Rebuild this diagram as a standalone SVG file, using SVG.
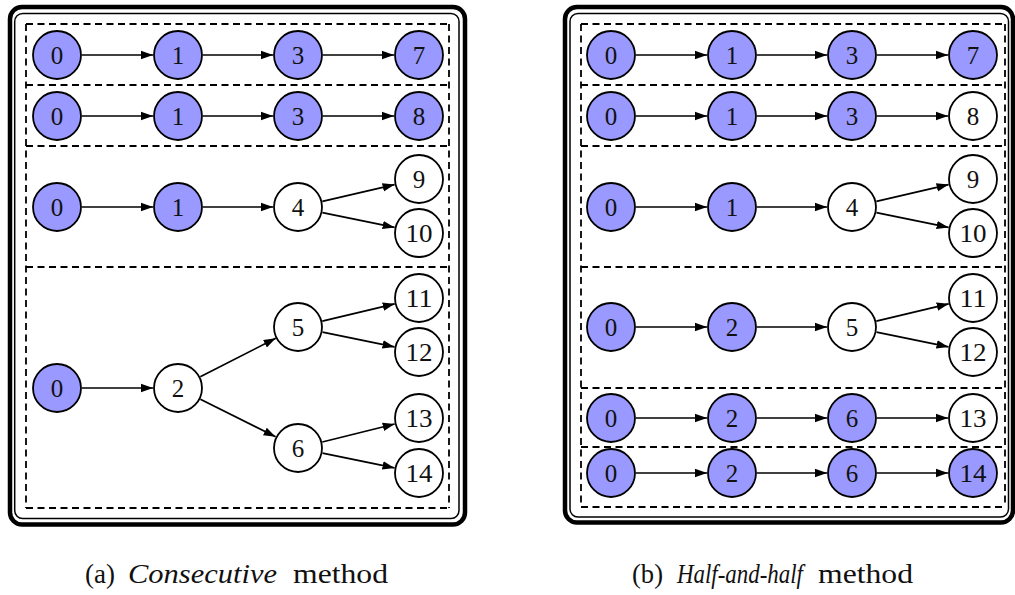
<svg xmlns="http://www.w3.org/2000/svg" width="1015" height="595" viewBox="0 0 1015 595">
<style>
.bg{fill:#fff}
.outer{fill:none;stroke:#000;stroke-width:4.5}
.inner{fill:none;stroke:#000;stroke-width:1.5}
.dash{fill:none;stroke:#000;stroke-width:1.8;stroke-dasharray:7 4.5}
.n circle{stroke:#000;stroke-width:1.8}
.b circle{fill:#9999ff}
.w circle{fill:#fff}
.n text{font-family:"Liberation Serif",serif;font-size:25px;text-anchor:middle;fill:#111}
.e line{stroke:#000;stroke-width:1.7;marker-end:url(#ah)}
.cap{font-family:"Liberation Serif",serif;font-size:27px;fill:#111}
.it{font-style:italic}
</style>
<defs>
<marker id="ah" markerUnits="userSpaceOnUse" markerWidth="13" markerHeight="10" refX="12" refY="5" orient="auto">
<path d="M0,0.8 L12,5 L0,9.2 z" fill="#000"/>
</marker>
</defs>
<rect class="bg" x="0" y="0" width="1015" height="595"/>

<g id="frames">
<rect class="outer" x="10" y="7" width="455" height="517.5" rx="12"/>
<rect class="inner" x="14.7" y="13.5" width="444.3" height="505" rx="8"/>
<path class="dash" d="M26,24 H449 M26,85 H449 M26,146 H449 M26,267 H449 M26,508 H449 M26,24 V508 M449,24 V508"/>

<rect class="outer" x="565" y="7" width="448" height="515.5" rx="12"/>
<rect class="inner" x="570" y="13.5" width="438.5" height="503.5" rx="8"/>
<path class="dash" d="M581,24 H1005 M581,85 H1005 M581,146 H1005 M581,267 H1005 M581,388 H1005 M581,447 H1005 M581,507 H1005 M581,24 V507 M1005,24 V507"/>
</g>

<g id="connectors" class="e">
<!-- left panel -->
<line x1="82" y1="55" x2="153" y2="55"/>
<line x1="203" y1="55" x2="273" y2="55"/>
<line x1="323" y1="55" x2="394" y2="55"/>
<line x1="82" y1="116" x2="153" y2="116"/>
<line x1="203" y1="116" x2="273" y2="116"/>
<line x1="323" y1="116" x2="394" y2="116"/>
<line x1="82" y1="207" x2="153" y2="207"/>
<line x1="203" y1="207" x2="273" y2="207"/>
<line x1="322.4" y1="201.4" x2="394.6" y2="184.6"/>
<line x1="322.4" y1="212.6" x2="394.6" y2="227.4"/>
<line x1="82" y1="388" x2="153" y2="388"/>
<line x1="200.3" y1="376.7" x2="275.7" y2="338.3"/>
<line x1="200.4" y1="399.2" x2="275.6" y2="436.8"/>
<line x1="322.3" y1="321.2" x2="394.7" y2="303.8"/>
<line x1="322.5" y1="332.1" x2="394.5" y2="346.9"/>
<line x1="322.3" y1="442" x2="394.7" y2="424"/>
<line x1="322.5" y1="453.1" x2="394.5" y2="467.9"/>
<!-- right panel -->
<line x1="636" y1="55" x2="707" y2="55"/>
<line x1="757" y1="55" x2="827" y2="55"/>
<line x1="877" y1="55" x2="948" y2="55"/>
<line x1="636" y1="116" x2="707" y2="116"/>
<line x1="757" y1="116" x2="827" y2="116"/>
<line x1="877" y1="116" x2="948" y2="116"/>
<line x1="636" y1="207" x2="707" y2="207"/>
<line x1="757" y1="207" x2="827" y2="207"/>
<line x1="876.4" y1="201.4" x2="948.6" y2="184.6"/>
<line x1="876.4" y1="212.6" x2="948.6" y2="227.4"/>
<line x1="636" y1="327" x2="707" y2="327"/>
<line x1="757" y1="327" x2="827" y2="327"/>
<line x1="876.3" y1="321.2" x2="948.7" y2="303.8"/>
<line x1="876.5" y1="332.1" x2="948.5" y2="346.9"/>
<line x1="636" y1="418" x2="707" y2="418"/>
<line x1="757" y1="418" x2="827" y2="418"/>
<line x1="877" y1="418" x2="948" y2="418"/>
<line x1="636" y1="473" x2="707" y2="473"/>
<line x1="757" y1="473" x2="827" y2="473"/>
<line x1="877" y1="473" x2="948" y2="473"/>
</g>

<g id="nodes-a">
<g id="a-r1-0" class="n b"><circle cx="57" cy="55" r="24"/><text x="57" y="63.5">0</text></g>
<g id="a-r1-1" class="n b"><circle cx="178" cy="55" r="24"/><text x="178" y="63.5">1</text></g>
<g id="a-r1-3" class="n b"><circle cx="298" cy="55" r="24"/><text x="298" y="63.5">3</text></g>
<g id="a-r1-7" class="n b"><circle cx="419" cy="55" r="24"/><text x="419" y="63.5">7</text></g>
<g id="a-r2-0" class="n b"><circle cx="57" cy="116" r="24"/><text x="57" y="124.5">0</text></g>
<g id="a-r2-1" class="n b"><circle cx="178" cy="116" r="24"/><text x="178" y="124.5">1</text></g>
<g id="a-r2-3" class="n b"><circle cx="298" cy="116" r="24"/><text x="298" y="124.5">3</text></g>
<g id="a-r2-8" class="n b"><circle cx="419" cy="116" r="24"/><text x="419" y="124.5">8</text></g>
<g id="a-r3-0" class="n b"><circle cx="57" cy="207" r="24"/><text x="57" y="215.5">0</text></g>
<g id="a-r3-1" class="n b"><circle cx="178" cy="207" r="24"/><text x="178" y="215.5">1</text></g>
<g id="a-r3-4" class="n w"><circle cx="298" cy="207" r="24"/><text x="298" y="215.5">4</text></g>
<g id="a-r3-9" class="n w"><circle cx="419" cy="179" r="24"/><text x="419" y="187.5">9</text></g>
<g id="a-r3-10" class="n w"><circle cx="419" cy="233" r="24"/><text x="419" y="241.5" textLength="27" lengthAdjust="spacingAndGlyphs">10</text></g>
<g id="a-r4-0" class="n b"><circle cx="57" cy="388" r="24"/><text x="57" y="396.5">0</text></g>
<g id="a-r4-2" class="n w"><circle cx="178" cy="388" r="24"/><text x="178" y="396.5">2</text></g>
<g id="a-r4-5" class="n w"><circle cx="298" cy="327" r="24"/><text x="298" y="335.5">5</text></g>
<g id="a-r4-6" class="n w"><circle cx="298" cy="448" r="24"/><text x="298" y="456.5">6</text></g>
<g id="a-r4-11" class="n w"><circle cx="419" cy="298" r="24"/><text x="419" y="306.5" textLength="27" lengthAdjust="spacingAndGlyphs">11</text></g>
<g id="a-r4-12" class="n w"><circle cx="419" cy="352" r="24"/><text x="419" y="360.5" textLength="27" lengthAdjust="spacingAndGlyphs">12</text></g>
<g id="a-r4-13" class="n w"><circle cx="419" cy="418" r="24"/><text x="419" y="426.5" textLength="27" lengthAdjust="spacingAndGlyphs">13</text></g>
<g id="a-r4-14" class="n w"><circle cx="419" cy="473" r="24"/><text x="419" y="481.5" textLength="27" lengthAdjust="spacingAndGlyphs">14</text></g>
</g>

<g id="nodes-b">
<g id="b-r1-0" class="n b"><circle cx="611" cy="55" r="24"/><text x="611" y="63.5">0</text></g>
<g id="b-r1-1" class="n b"><circle cx="732" cy="55" r="24"/><text x="732" y="63.5">1</text></g>
<g id="b-r1-3" class="n b"><circle cx="852" cy="55" r="24"/><text x="852" y="63.5">3</text></g>
<g id="b-r1-7" class="n b"><circle cx="973" cy="55" r="24"/><text x="973" y="63.5">7</text></g>
<g id="b-r2-0" class="n b"><circle cx="611" cy="116" r="24"/><text x="611" y="124.5">0</text></g>
<g id="b-r2-1" class="n b"><circle cx="732" cy="116" r="24"/><text x="732" y="124.5">1</text></g>
<g id="b-r2-3" class="n b"><circle cx="852" cy="116" r="24"/><text x="852" y="124.5">3</text></g>
<g id="b-r2-8" class="n w"><circle cx="973" cy="116" r="24"/><text x="973" y="124.5">8</text></g>
<g id="b-r3-0" class="n b"><circle cx="611" cy="207" r="24"/><text x="611" y="215.5">0</text></g>
<g id="b-r3-1" class="n b"><circle cx="732" cy="207" r="24"/><text x="732" y="215.5">1</text></g>
<g id="b-r3-4" class="n w"><circle cx="852" cy="207" r="24"/><text x="852" y="215.5">4</text></g>
<g id="b-r3-9" class="n w"><circle cx="973" cy="179" r="24"/><text x="973" y="187.5">9</text></g>
<g id="b-r3-10" class="n w"><circle cx="973" cy="233" r="24"/><text x="973" y="241.5" textLength="27" lengthAdjust="spacingAndGlyphs">10</text></g>
<g id="b-r4-0" class="n b"><circle cx="611" cy="327" r="24"/><text x="611" y="335.5">0</text></g>
<g id="b-r4-2" class="n b"><circle cx="732" cy="327" r="24"/><text x="732" y="335.5">2</text></g>
<g id="b-r4-5" class="n w"><circle cx="852" cy="327" r="24"/><text x="852" y="335.5">5</text></g>
<g id="b-r4-11" class="n w"><circle cx="973" cy="298" r="24"/><text x="973" y="306.5" textLength="27" lengthAdjust="spacingAndGlyphs">11</text></g>
<g id="b-r4-12" class="n w"><circle cx="973" cy="352" r="24"/><text x="973" y="360.5" textLength="27" lengthAdjust="spacingAndGlyphs">12</text></g>
<g id="b-r5-0" class="n b"><circle cx="611" cy="418" r="24"/><text x="611" y="426.5">0</text></g>
<g id="b-r5-2" class="n b"><circle cx="732" cy="418" r="24"/><text x="732" y="426.5">2</text></g>
<g id="b-r5-6" class="n b"><circle cx="852" cy="418" r="24"/><text x="852" y="426.5">6</text></g>
<g id="b-r5-13" class="n w"><circle cx="973" cy="418" r="24"/><text x="973" y="426.5" textLength="27" lengthAdjust="spacingAndGlyphs">13</text></g>
<g id="b-r6-0" class="n b"><circle cx="611" cy="473" r="24"/><text x="611" y="481.5">0</text></g>
<g id="b-r6-2" class="n b"><circle cx="732" cy="473" r="24"/><text x="732" y="481.5">2</text></g>
<g id="b-r6-6" class="n b"><circle cx="852" cy="473" r="24"/><text x="852" y="481.5">6</text></g>
<g id="b-r6-14" class="n b"><circle cx="973" cy="473" r="24"/><text x="973" y="481.5" textLength="27" lengthAdjust="spacingAndGlyphs">14</text></g>
</g>

<g id="captions">
<text class="cap" x="85" y="583" textLength="30" lengthAdjust="spacingAndGlyphs">(a)</text>
<text class="cap it" x="128" y="583" textLength="149" lengthAdjust="spacingAndGlyphs">Consecutive</text>
<text class="cap" x="293" y="583" textLength="95" lengthAdjust="spacingAndGlyphs">method</text>
<text class="cap" x="632" y="583" textLength="31" lengthAdjust="spacingAndGlyphs">(b)</text>
<text class="cap it" x="677" y="583" textLength="126" lengthAdjust="spacingAndGlyphs">Half-and-half</text>
<text class="cap" x="818" y="583" textLength="95" lengthAdjust="spacingAndGlyphs">method</text>
</g>
</svg>
